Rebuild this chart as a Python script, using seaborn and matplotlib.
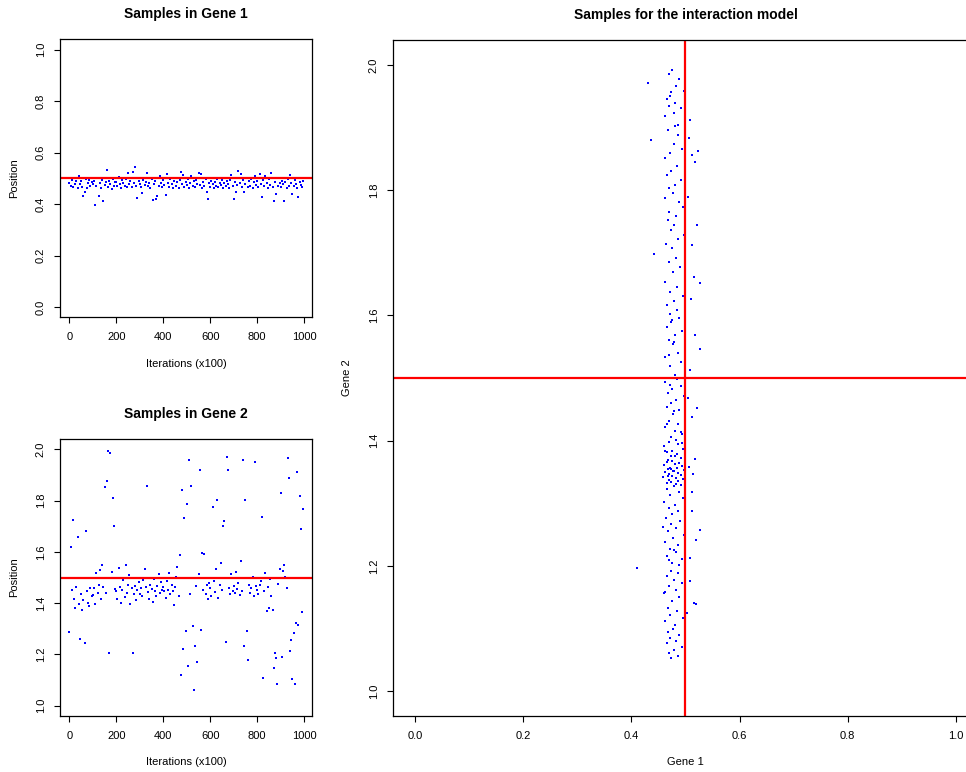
import numpy as np
import pandas as pd
import seaborn as sns
import matplotlib.pyplot as plt
from matplotlib.ticker import FormatStrFormatter

sns.set_style("white")
plt.rcParams['font.family'] = ['Liberation Sans', 'DejaVu Sans']
plt.rcParams['text.color'] = 'black'
plt.rcParams['axes.labelcolor'] = 'black'

# MCMC trace, one sample kept every 5 (x100) iterations
iterations = np.arange(0, 1000, 5)

gene1_trace = [
    0.482, 0.471, 0.495, 0.468, 0.503, 0.477, 0.488, 0.462, 0.509, 0.479, 0.491, 0.466, 0.432, 0.445, 0.498, 0.463, 0.481, 0.493, 0.470, 0.486,
    0.476, 0.488, 0.397, 0.469, 0.501, 0.433, 0.482, 0.464, 0.494, 0.412, 0.473, 0.486, 0.531, 0.467, 0.490, 0.478, 0.458, 0.499, 0.472, 0.484,
    0.487, 0.469, 0.505, 0.476, 0.462, 0.493, 0.481, 0.470, 0.497, 0.465, 0.521, 0.478, 0.489, 0.467, 0.524, 0.483, 0.542, 0.472, 0.425, 0.491,
    0.479, 0.466, 0.442, 0.494, 0.473, 0.487, 0.519, 0.469, 0.482, 0.461, 0.498, 0.415, 0.476, 0.489, 0.418, 0.433, 0.470, 0.507, 0.480, 0.465,
    0.492, 0.474, 0.436, 0.518, 0.483, 0.467, 0.496, 0.478, 0.461, 0.488, 0.502, 0.471, 0.485, 0.463, 0.493, 0.526, 0.479, 0.511, 0.468, 0.487,
    0.475, 0.498, 0.464, 0.483, 0.509, 0.470, 0.488, 0.466, 0.492, 0.478, 0.521, 0.473, 0.515, 0.461, 0.486, 0.469, 0.497, 0.445, 0.420, 0.482,
    0.468, 0.491, 0.476, 0.463, 0.487, 0.472, 0.499, 0.466, 0.483, 0.474, 0.495, 0.462, 0.480, 0.469, 0.489, 0.477, 0.464, 0.493, 0.512, 0.471,
    0.421, 0.486, 0.445, 0.473, 0.527, 0.481, 0.516, 0.467, 0.492, 0.448, 0.478, 0.503, 0.465, 0.488, 0.471, 0.496, 0.462, 0.484, 0.507, 0.474,
    0.489, 0.466, 0.517, 0.478, 0.428, 0.495, 0.470, 0.509, 0.483, 0.463, 0.498, 0.474, 0.522, 0.467, 0.413, 0.486, 0.440, 0.501, 0.472, 0.480,
    0.467, 0.491, 0.476, 0.413, 0.485, 0.463, 0.497, 0.471, 0.512, 0.482, 0.438, 0.469, 0.494, 0.476, 0.461, 0.428, 0.487, 0.473, 0.466, 0.490,
]

gene2_trace = [
    1.286, 1.620, 1.452, 1.724, 1.418, 1.381, 1.463, 1.656, 1.395, 1.262, 1.437, 1.372, 1.412, 1.243, 1.680, 1.448, 1.402, 1.389, 1.461, 1.427,
    1.433, 1.458, 1.396, 1.517, 1.441, 1.472, 1.529, 1.415, 1.547, 1.462, 1.853, 1.438, 1.877, 1.995, 1.207, 1.984, 1.521, 1.810, 1.700, 1.456,
    1.447, 1.418, 1.536, 1.462, 1.401, 1.453, 1.489, 1.425, 1.548, 1.440, 1.472, 1.511, 1.395, 1.458, 1.207, 1.436, 1.468, 1.412, 1.451, 1.483,
    1.437, 1.459, 1.426, 1.489, 1.532, 1.462, 1.857, 1.442, 1.418, 1.471, 1.455, 1.403, 1.494, 1.447, 1.429, 1.466, 1.512, 1.438, 1.481, 1.452,
    1.462, 1.446, 1.421, 1.487, 1.453, 1.519, 1.436, 1.471, 1.448, 1.393, 1.464, 1.502, 1.541, 1.427, 1.586, 1.120, 1.842, 1.220, 1.733, 1.290,
    1.785, 1.156, 1.960, 1.434, 1.857, 1.310, 1.062, 1.232, 1.468, 1.172, 1.512, 1.920, 1.294, 1.596, 1.452, 1.591, 1.437, 1.469, 1.415, 1.478,
    1.461, 1.427, 1.774, 1.486, 1.445, 1.532, 1.802, 1.419, 1.472, 1.556, 1.453, 1.702, 1.721, 1.247, 1.968, 1.921, 1.458, 1.437, 1.513, 1.449,
    1.468, 1.441, 1.522, 1.455, 1.479, 1.431, 1.563, 1.446, 1.960, 1.232, 1.801, 1.290, 1.177, 1.472, 1.438, 1.459, 1.503, 1.426, 1.950, 1.465,
    1.452, 1.436, 1.471, 1.486, 1.736, 1.109, 1.448, 1.517, 1.368, 1.462, 1.381, 1.494, 1.429, 1.372, 1.148, 1.205, 1.185, 1.085, 1.476, 1.533,
    1.830, 1.190, 1.527, 1.548, 1.502, 1.461, 1.965, 1.886, 1.213, 1.256, 1.105, 1.285, 1.083, 1.324, 1.912, 1.315, 1.817, 1.690, 1.367, 1.766,
]

# joint samples of the interaction model
joint_gene1 = [
    0.476, 0.469, 0.489, 0.431, 0.483, 0.497, 0.472, 0.465, 0.481, 0.492, 0.478, 0.463, 0.508, 0.486, 0.474, 0.469, 0.499, 0.481, 0.467, 0.487,
    0.436, 0.478, 0.494, 0.471, 0.463, 0.517, 0.485, 0.474, 0.466, 0.491, 0.480, 0.469, 0.506, 0.513, 0.477, 0.462, 0.488, 0.495, 0.470, 0.483,
    0.467, 0.479, 0.473, 0.497, 0.486, 0.464, 0.475, 0.505, 0.521, 0.441, 0.482, 0.469, 0.490, 0.477, 0.516, 0.463, 0.485, 0.472, 0.495, 0.478,
    0.466, 0.484, 0.471, 0.526, 0.510, 0.488, 0.474, 0.465, 0.493, 0.480, 0.469, 0.477, 0.527, 0.486, 0.463, 0.492, 0.472, 0.508, 0.481, 0.475,
    0.479, 0.470, 0.484, 0.462, 0.491, 0.476, 0.468, 0.497, 0.482, 0.473, 0.465, 0.489, 0.477, 0.512, 0.470, 0.486, 0.463, 0.480, 0.494, 0.474,
    0.471, 0.505, 0.478, 0.466, 0.492, 0.483, 0.470, 0.487, 0.461, 0.496, 0.476, 0.466, 0.484, 0.473, 0.491, 0.468, 0.517, 0.480, 0.463, 0.494,
    0.475, 0.466, 0.489, 0.481, 0.460, 0.493, 0.472, 0.484, 0.467, 0.498, 0.478, 0.463, 0.486, 0.470, 0.491, 0.476, 0.459, 0.482, 0.495, 0.469,
    0.487, 0.474, 0.465, 0.483, 0.492, 0.506, 0.477, 0.514, 0.468, 0.473, 0.479, 0.466, 0.488, 0.472, 0.495, 0.461, 0.481, 0.469, 0.486, 0.476,
    0.464, 0.490, 0.473, 0.482, 0.468, 0.497, 0.477, 0.463, 0.486, 0.471, 0.483, 0.466, 0.493, 0.475, 0.512, 0.458, 0.520, 0.479, 0.470, 0.488,
    0.411, 0.474, 0.486, 0.465, 0.479, 0.493, 0.469, 0.482, 0.461, 0.488, 0.476, 0.519, 0.467, 0.484, 0.472, 0.495, 0.463, 0.481, 0.508, 0.515,
    0.477, 0.468, 0.489, 0.472, 0.483, 0.465, 0.494, 0.479, 0.470, 0.486, 0.474, 0.503, 0.462, 0.508, 0.526, 0.512, 0.521, 0.517, 0.513, 0.524,
]

joint_gene2 = [
    1.992, 1.985, 1.978, 1.971, 1.966, 1.958, 1.951, 1.946, 1.939, 1.931, 1.924, 1.918, 1.912, 1.905, 1.957, 1.934, 1.988, 1.903, 1.897, 1.889,
    1.881, 1.874, 1.866, 1.859, 1.852, 1.845, 1.838, 1.831, 1.824, 1.816, 1.809, 1.803, 1.884, 1.856, 1.795, 1.788, 1.781, 1.773, 1.766, 1.759,
    1.752, 1.744, 1.737, 1.729, 1.722, 1.714, 1.707, 1.789, 1.745, 1.698, 1.691, 1.685, 1.677, 1.669, 1.661, 1.654, 1.646, 1.638, 1.631, 1.623,
    1.616, 1.609, 1.603, 1.652, 1.627, 1.596, 1.589, 1.582, 1.575, 1.568, 1.561, 1.554, 1.547, 1.540, 1.533, 1.526, 1.519, 1.512, 1.505, 1.592,
    1.558, 1.537, 1.498, 1.493, 1.487, 1.482, 1.476, 1.471, 1.465, 1.460, 1.454, 1.449, 1.443, 1.438, 1.432, 1.427, 1.421, 1.416, 1.410, 1.405,
    1.489, 1.468, 1.447, 1.426, 1.413, 1.401, 1.398, 1.394, 1.391, 1.387, 1.384, 1.381, 1.378, 1.375, 1.372, 1.369, 1.371, 1.376, 1.383, 1.396,
    1.368, 1.366, 1.364, 1.362, 1.361, 1.359, 1.357, 1.356, 1.354, 1.353, 1.351, 1.350, 1.348, 1.347, 1.345, 1.344, 1.342, 1.341, 1.339, 1.337,
    1.336, 1.334, 1.333, 1.331, 1.329, 1.358, 1.352, 1.346, 1.343, 1.355, 1.327, 1.323, 1.318, 1.313, 1.308, 1.302, 1.297, 1.292, 1.287, 1.282,
    1.277, 1.271, 1.266, 1.260, 1.255, 1.249, 1.244, 1.238, 1.233, 1.227, 1.222, 1.216, 1.211, 1.205, 1.288, 1.262, 1.241, 1.225, 1.209, 1.201,
    1.196, 1.192, 1.188, 1.183, 1.178, 1.172, 1.167, 1.161, 1.156, 1.150, 1.144, 1.139, 1.133, 1.128, 1.122, 1.117, 1.111, 1.106, 1.175, 1.141,
    1.099, 1.094, 1.089, 1.085, 1.080, 1.076, 1.071, 1.066, 1.061, 1.056, 1.052, 1.125, 1.158, 1.213, 1.257, 1.318, 1.452, 1.568, 1.713, 1.862,
]

true_gene1 = 0.5
true_gene2 = 1.5

trace = pd.DataFrame({'iter': iterations, 'g1': gene1_trace, 'g2': gene2_trace})
joint = pd.DataFrame({'g1': joint_gene1, 'g2': joint_gene2})

W, H = 966, 772
fig = plt.figure(figsize=(W / 100, H / 100), dpi=100)
ax1 = fig.add_axes([60.3 / W, 1 - 317.3 / H, 251.2 / W, 278 / H])
ax2 = fig.add_axes([60.3 / W, 1 - 716 / H, 251.2 / W, 277 / H])
ax3 = fig.add_axes([393.3 / W, 1 - 716 / H, 584.3 / W, 676 / H])

pt = dict(color='blue', s=3.5, marker='s', linewidth=0, legend=False)
sns.scatterplot(data=trace, x='iter', y='g1', ax=ax1, **pt)
sns.scatterplot(data=trace, x='iter', y='g2', ax=ax2, **pt)
sns.scatterplot(data=joint, x='g1', y='g2', ax=ax3, **pt)

ax1.axhline(true_gene1, color='red', lw=1.6)
ax2.axhline(true_gene2, color='red', lw=1.6)
ax3.axhline(true_gene2, color='red', lw=1.6)
ax3.axvline(true_gene1, color='red', lw=1.6)

ax1.set_xlim(-38.5, 1031)
ax2.set_xlim(-38.5, 1031)
ax1.set_ylim(-0.04, 1.04)
ax2.set_ylim(0.96, 2.04)
ax3.set_xlim(-0.04, 1.04)
ax3.set_ylim(0.96, 2.04)

ax1.set_xticks(range(0, 1001, 200))
ax2.set_xticks(range(0, 1001, 200))
ax1.set_yticks(np.arange(0, 1.01, 0.2))
ax2.set_yticks(np.arange(1, 2.01, 0.2))
ax3.set_xticks(np.arange(0, 1.01, 0.2))
ax3.set_yticks(np.arange(1, 2.01, 0.2))

titles = ['Samples in Gene 1', 'Samples in Gene 2', 'Samples for the interaction model']
xlabels = ['Iterations (x100)', 'Iterations (x100)', 'Gene 1']
ylabels = ['Position', 'Position', 'Gene 2']
for ax, t, xl, yl in zip([ax1, ax2, ax3], titles, xlabels, ylabels):
    ax.set_title(t, fontsize=10, fontweight='bold', pad=15, color='black')
    ax.set_xlabel(xl, fontsize=8, labelpad=12, color='black')
    ax.set_ylabel(yl, fontsize=8, labelpad=12, color='black')
    ax.yaxis.set_major_formatter(FormatStrFormatter('%.1f'))
    if ax is ax3:
        ax.xaxis.set_major_formatter(FormatStrFormatter('%.1f'))
    for s in ax.spines.values():
        s.set_visible(True)
        s.set_color('black')
        s.set_linewidth(0.9)
    ax.tick_params(axis='both', direction='out', length=4.5, width=0.8,
                   labelsize=8, pad=6, bottom=True, left=True,
                   colors='black', labelcolor='black')
    for lab in ax.get_yticklabels():
        lab.set_rotation(90)
        lab.set_va('center')

fig.savefig('out.png', dpi=100)
